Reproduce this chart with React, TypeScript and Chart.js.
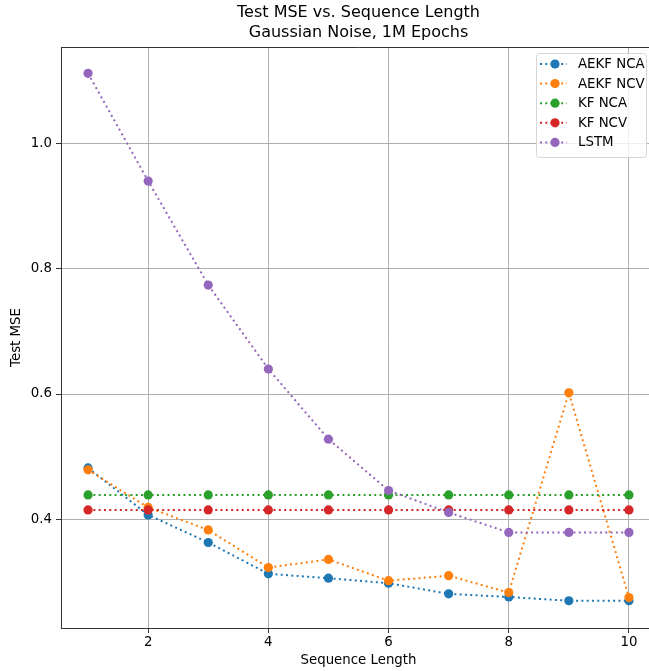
import React, { useEffect, useRef } from "react";
import { Chart, registerables } from "chart.js";

Chart.register(...registerables);

const sequenceLengths = [1, 2, 3, 4, 5, 6, 7, 8, 9, 10];
const aekfNca = [0.482, 0.407, 0.363, 0.313, 0.306, 0.298, 0.281, 0.276, 0.27, 0.27];
const aekfNcv = [0.479, 0.419, 0.383, 0.323, 0.336, 0.302, 0.31, 0.283, 0.602, 0.275];
const kfNca = [0.439, 0.439, 0.439, 0.439, 0.439, 0.439, 0.439, 0.439, 0.439, 0.439];
const kfNcv = [0.415, 0.415, 0.415, 0.415, 0.415, 0.415, 0.415, 0.415, 0.415, 0.415];
const lstm = [1.112, 0.94, 0.774, 0.64, 0.528, 0.446, 0.411, 0.379, 0.379, 0.379];

const seriesNames = ["AEKF NCA", "AEKF NCV", "KF NCA", "KF NCV", "LSTM"];
const seriesValues = [aekfNca, aekfNcv, kfNca, kfNcv, lstm];
const seriesColors = ["#1f77b4", "#ff7f0e", "#2ca02c", "#d62728", "#9467bd"];

const xTicks = [2, 4, 6, 8, 10];
const yTicks = [0.4, 0.6, 0.8, 1.0];

const FONT = "'DejaVu Sans', sans-serif";
const LABEL_SIZE = 13.33;
const DOT_DASH = [2, 3.3];
const POINT_RADIUS = 4.6;

// Top spine of the axes frame (left and bottom come from the scales' borders)
const framePlugin = {
  id: "frameTop",
  afterDatasetsDraw(chart: any) {
    const { ctx, chartArea } = chart;
    ctx.save();
    ctx.strokeStyle = "#333333";
    ctx.lineWidth = 1;
    ctx.beginPath();
    const y = Math.round(chartArea.top) + 0.5;
    ctx.moveTo(chartArea.left, y);
    ctx.lineTo(chartArea.right, y);
    ctx.stroke();
    ctx.restore();
  },
};

// Legend drawn inside the upper-right corner of the plotting area
const insetLegendPlugin = {
  id: "insetLegend",
  afterDraw(chart: any) {
    const { ctx, chartArea } = chart;
    const left = chartArea.right - 120;
    const top = chartArea.top + 6;
    const width = 111;
    const rowGap = 19.6;
    const height = 104;
    const r = 3;
    const x0 = left + 0.5;
    const y0 = top + 0.5;
    const x1 = left + width - 0.5;
    const y1 = top + height + 0.5;

    ctx.save();
    ctx.beginPath();
    ctx.moveTo(x0 + r, y0);
    ctx.lineTo(x1 - r, y0);
    ctx.arcTo(x1, y0, x1, y0 + r, r);
    ctx.lineTo(x1, y1 - r);
    ctx.arcTo(x1, y1, x1 - r, y1, r);
    ctx.lineTo(x0 + r, y1);
    ctx.arcTo(x0, y1, x0, y1 - r, r);
    ctx.lineTo(x0, y0 + r);
    ctx.arcTo(x0, y0, x0 + r, y0, r);
    ctx.closePath();
    ctx.fillStyle = "rgba(255,255,255,0.8)";
    ctx.fill();
    ctx.strokeStyle = "#d6d6d6";
    ctx.lineWidth = 1;
    ctx.stroke();

    ctx.font = `${LABEL_SIZE}px ${FONT}`;
    ctx.textBaseline = "middle";
    ctx.textAlign = "left";
    seriesNames.forEach((name, i) => {
      const cy = top + 11 + i * rowGap;
      ctx.strokeStyle = seriesColors[i];
      ctx.lineWidth = 2;
      ctx.setLineDash(DOT_DASH);
      ctx.beginPath();
      ctx.moveTo(left + 4, cy);
      ctx.lineTo(left + 31, cy);
      ctx.stroke();
      ctx.setLineDash([]);
      ctx.fillStyle = seriesColors[i];
      ctx.beginPath();
      ctx.arc(left + 19, cy, POINT_RADIUS, 0, Math.PI * 2);
      ctx.fill();
      ctx.fillStyle = "#000000";
      ctx.fillText(name, left + 42, cy + 0.5);
    });
    ctx.restore();
  },
};

export default function App() {
  const canvasRef = useRef<HTMLCanvasElement | null>(null);

  useEffect(() => {
    document.body.style.margin = "0";
    const canvas = canvasRef.current;
    if (!canvas) return;

    const datasets = seriesNames.map((name, i) => ({
      label: name,
      data: sequenceLengths.map((x, j) => ({ x, y: seriesValues[i][j] })),
      borderColor: seriesColors[i],
      backgroundColor: seriesColors[i],
      pointBackgroundColor: seriesColors[i],
      pointBorderWidth: 0,
      pointRadius: POINT_RADIUS,
      pointHoverRadius: POINT_RADIUS,
      borderWidth: 2,
      borderDash: DOT_DASH,
      borderCapStyle: "butt" as const,
      tension: 0,
      fill: false,
      order: -i,
    }));

    const chart = new Chart(canvas, {
      type: "line",
      data: { datasets },
      plugins: [framePlugin, insetLegendPlugin],
      options: {
        animation: false,
        responsive: false,
        devicePixelRatio: 1,
        layout: { autoPadding: false, padding: { left: 0, right: 0, top: 0, bottom: 0 } },
        font: { family: FONT },
        plugins: {
          legend: { display: false },
          tooltip: { enabled: false },
          title: {
            display: true,
            fullSize: false,
            text: ["Test MSE vs. Sequence Length", "Gaussian Noise, 1M Epochs"],
            color: "#000000",
            font: { family: FONT, size: 16, weight: "normal", lineHeight: 1.25 },
            padding: { top: 3, bottom: 4 },
          },
        },
        scales: {
          x: {
            type: "linear",
            min: 0.55,
            max: 10.45,
            afterBuildTicks: (scale: any) => {
              scale.ticks = xTicks.map((v) => ({ value: v }));
            },
            afterFit: (scale: any) => {
              scale.height = 43;
              scale.paddingLeft = 0;
              scale.paddingRight = 0;
            },
            ticks: {
              color: "#000000",
              font: { family: FONT, size: LABEL_SIZE },
              padding: 2,
              maxRotation: 0,
              autoSkip: false,
              callback: (v: any) => String(v),
            },
            grid: {
              color: "#b0b0b0",
              lineWidth: 1,
              tickColor: "#333333",
              tickLength: 5,
            },
            border: { display: true, color: "#333333", width: 1 },
            title: {
              display: true,
              text: "Sequence Length",
              color: "#000000",
              font: { family: FONT, size: LABEL_SIZE },
              padding: { top: 0, bottom: 2 },
            },
          },
          y: {
            type: "linear",
            min: 0.2265,
            max: 1.154,
            afterBuildTicks: (scale: any) => {
              scale.ticks = yTicks.map((v) => ({ value: v }));
            },
            afterFit: (scale: any) => {
              scale.width = 61;
              scale.paddingTop = 0;
              scale.paddingBottom = 0;
            },
            ticks: {
              color: "#000000",
              font: { family: FONT, size: LABEL_SIZE },
              padding: 4,
              autoSkip: false,
              callback: (v: any) => Number(v).toFixed(1),
            },
            grid: {
              color: "#b0b0b0",
              lineWidth: 1,
              tickColor: "#333333",
              tickLength: 5,
            },
            border: { display: true, color: "#333333", width: 1 },
            title: {
              display: true,
              text: "Test MSE",
              color: "#000000",
              font: { family: FONT, size: LABEL_SIZE },
              padding: { top: 9, bottom: 0 },
            },
          },
        },
      },
    });

    return () => chart.destroy();
  }, []);

  // The figure is slightly wider than the visible frame; its right edge is cut off.
  return (
    <div style={{ width: 649, height: 671, overflow: "hidden" }}>
      <canvas ref={canvasRef} width={656} height={671} style={{ display: "block" }} />
    </div>
  );
}
